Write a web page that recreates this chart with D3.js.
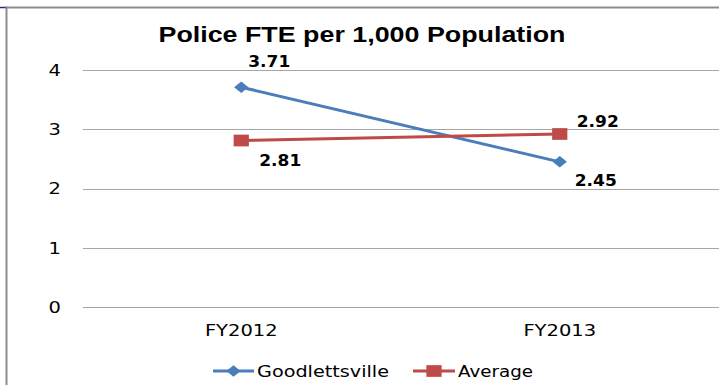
<!DOCTYPE html>
<html>
<head>
<meta charset="utf-8">
<script src="https://cdn.jsdelivr.net/npm/d3@7"></script>
<style>
  html, body { margin: 0; padding: 0; background: #fff; }
  svg { display: block; }
</style>
</head>
<body>
<div id="chart"></div>
<script>
// ---- data ----
const categories = ["FY2012", "FY2013"];
const goodlettsville = [3.71, 2.45];
const average = [2.81, 2.92];
const yTicks = [0, 1, 2, 3, 4];
const seriesNames = ["Goodlettsville", "Average"];
const title = "Police FTE per 1,000 Population";

// ---- layout ----
const W = 723, H = 385;
const plot = { left: 82, right: 719, top: 70, bottom: 307 };
const stretch = 1.3; // the reference is horizontally stretched
const colors = { blue: "#4a7ebb", red: "#be4b48", grid: "#a6a6a6", frame: "#8c8c8c" };

const svg = d3.select("#chart").append("svg").attr("width", W).attr("height", H);

const x = d3.scaleBand().domain(categories).range([plot.left, plot.right]);
const y = d3.scaleLinear().domain([0, 4]).range([plot.bottom, plot.top]);
const cx = c => x(c) + x.bandwidth() / 2;

// frame
svg.append("line").attr("x1", 0).attr("x2", 7).attr("y1", 7.5).attr("y2", 7.5)
  .attr("stroke", "#1f3864").attr("stroke-width", 1.5);
svg.append("path").attr("d", `M6.5,${H + 5} V7.5 H719`)
  .attr("fill", "none").attr("stroke", colors.frame).attr("stroke-width", 2);

// gridlines
svg.append("g").selectAll("line").data(yTicks).join("line")
  .attr("x1", plot.left + 1).attr("x2", plot.right)
  .attr("y1", d => Math.round(y(d)) + 0.5).attr("y2", d => Math.round(y(d)) + 0.5)
  .attr("stroke", colors.grid).attr("stroke-width", 1);

function fit(sel, ratio) {
  sel.each(function () {
    const w = this.getComputedTextLength();
    d3.select(this).attr("textLength", w * (ratio || stretch)).attr("lengthAdjust", "spacingAndGlyphs");
  });
}

// y axis
const yAxis = svg.append("g").attr("transform", `translate(${plot.left},0)`)
  .call(d3.axisLeft(y).tickValues(yTicks).tickSize(0).tickPadding(21).tickFormat(d3.format("d")));
yAxis.select(".domain").remove();
yAxis.selectAll("text").attr("font-family", "DejaVu Sans").attr("font-size", 15)
  .attr("fill", "#000").attr("dy", "0.36em");
fit(yAxis.selectAll("text"));

// x axis
const xAxis = svg.append("g").attr("transform", `translate(0,${plot.bottom})`)
  .call(d3.axisBottom(x).tickSize(0).tickPadding(18));
xAxis.select(".domain").remove();
xAxis.selectAll("text").attr("font-family", "DejaVu Sans").attr("font-size", 15).attr("fill", "#000");
fit(xAxis.selectAll("text"));

// title
svg.append("text").attr("x", 362).attr("y", 42).attr("text-anchor", "middle")
  .attr("font-family", "Liberation Sans").attr("font-weight", "bold").attr("font-size", 22)
  .attr("fill", "#000").attr("textLength", 407).attr("lengthAdjust", "spacingAndGlyphs")
  .text(title);

// series
const series = [
  { name: seriesNames[0], values: goodlettsville, color: colors.blue, symbol: d3.symbolDiamond2, size: 85, sx: 1.25,
    labelOffsets: [[7, -20], [15, 24]] },
  { name: seriesNames[1], values: average, color: colors.red, symbol: d3.symbolSquare2, size: 175, sx: 1.3,
    labelOffsets: [[18, 25], [17, -7]] }
];

const line = d3.line().x(d => cx(d.c)).y(d => y(d.v));

series.forEach(s => {
  const pts = categories.map((c, i) => ({ c, v: s.values[i], i }));
  const g = svg.append("g");
  g.append("path").datum(pts).attr("d", line).attr("fill", "none")
    .attr("stroke", s.color).attr("stroke-width", 3);
  g.selectAll("path.m").data(pts).join("path").attr("class", "m")
    .attr("d", d3.symbol().type(s.symbol).size(s.size))
    .attr("transform", d => `translate(${cx(d.c)},${y(d.v)}) scale(${s.sx},1)`)
    .attr("fill", s.color);
  g.selectAll("text").data(pts).join("text")
    .attr("x", d => cx(d.c) + s.labelOffsets[d.i][0])
    .attr("y", d => y(d.v) + s.labelOffsets[d.i][1])
    .attr("font-family", "DejaVu Sans").attr("font-weight", "bold").attr("font-size", 15)
    .attr("fill", "#000").attr("textLength", 42).attr("lengthAdjust", "spacingAndGlyphs")
    .text(d => d3.format(".2f")(d.v));
});

// legend
const legendItems = [
  { s: series[0], x0: 213, x1: 254, tx: 257, tw: 132 },
  { s: series[1], x0: 413, x1: 455, tx: 458, tw: 75 }
];
const ly = 371;
legendItems.forEach(it => {
  const g = svg.append("g");
  g.append("line").attr("x1", it.x0).attr("x2", it.x1).attr("y1", ly).attr("y2", ly)
    .attr("stroke", it.s.color).attr("stroke-width", 3);
  g.append("path").attr("d", d3.symbol().type(it.s.symbol).size(it.s.size)())
    .attr("transform", `translate(${(it.x0 + it.x1) / 2},${ly}) scale(${it.s.sx},1)`)
    .attr("fill", it.s.color);
  g.append("text").attr("x", it.tx).attr("y", ly + 5.5)
    .attr("font-family", "DejaVu Sans").attr("font-size", 15).attr("fill", "#000")
    .attr("textLength", it.tw).attr("lengthAdjust", "spacingAndGlyphs")
    .text(it.s.name);
});
</script>
</body>
</html>
